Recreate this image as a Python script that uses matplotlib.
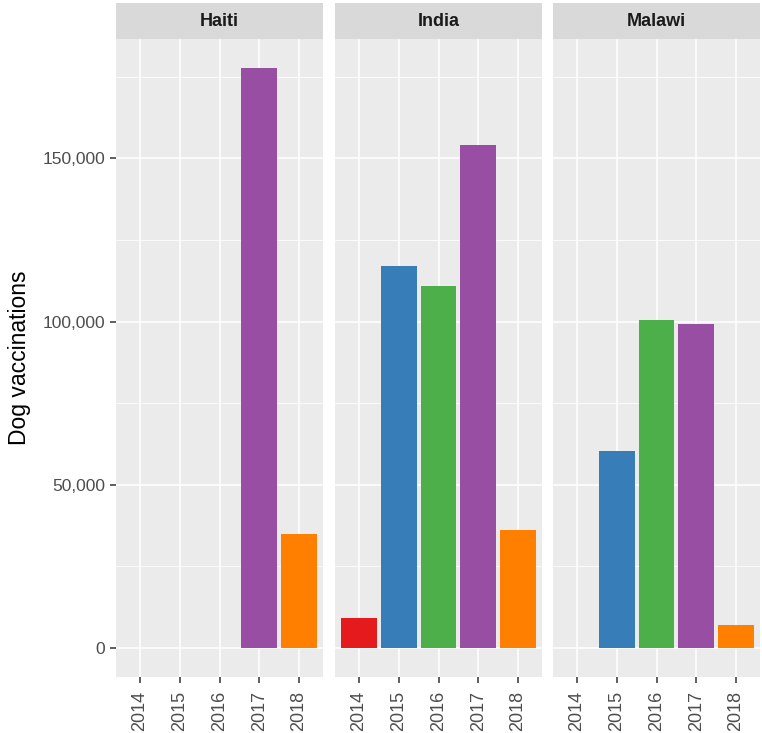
import matplotlib
matplotlib.use("Agg")
import matplotlib.pyplot as plt
from matplotlib.ticker import FuncFormatter, MultipleLocator
import numpy as np

plt.rcParams['font.family'] = ['Liberation Sans', 'DejaVu Sans']

countries = ["Haiti", "India", "Malawi"]
years = ["2014", "2015", "2016", "2017", "2018"]
year_colors = ["#E41A1C", "#377EB8", "#4DAF4A", "#984EA3", "#FF7F00"]
haiti = [None, None, None, 177700, 34900]
india = [9200, 117100, 111000, 154100, 36100]
malawi = [None, 60500, 100600, 99400, 7000]
values = [haiti, india, malawi]

W, H = 762, 733
fig = plt.figure(figsize=(W / 100, H / 100), dpi=100)

panel_lefts = [116, 335, 553]
panel_w = 207
panel_top, panel_bot = 39, 677
strip_top = 3

ymax = 177700
exp = ymax * 0.05
ylo, yhi = -exp, ymax + exp

for i, (c, vals) in enumerate(zip(countries, values)):
    x0 = panel_lefts[i]
    ax = fig.add_axes([x0 / W, 1 - panel_bot / H, panel_w / W, (panel_bot - panel_top) / H])
    ax.set_facecolor("#EBEBEB")
    xs = np.arange(1, len(years) + 1)
    for x, v, col in zip(xs, vals, year_colors):
        if v is not None:
            ax.bar(x, v, width=0.9, color=col, zorder=3)
    ax.set_xlim(0.4, len(years) + 0.6)
    ax.set_ylim(ylo, yhi)
    ax.set_xticks(xs)
    ax.set_xticklabels(years, rotation=90, fontsize=13, color="#4D4D4D")
    ax.yaxis.set_major_locator(MultipleLocator(50000))
    ax.yaxis.set_minor_locator(MultipleLocator(25000))
    ax.xaxis.set_minor_locator(matplotlib.ticker.NullLocator())
    ax.grid(True, which="major", color="white", linewidth=1.1, zorder=0)
    ax.grid(True, which="minor", axis="y", color="white", linewidth=0.55, zorder=0)
    ax.set_axisbelow(True)
    for s in ax.spines.values():
        s.set_visible(False)
    ax.tick_params(axis="both", which="major", length=4, width=1.1, color="#333333", pad=4)
    ax.tick_params(axis="x", which="major", pad=6)
    ax.tick_params(axis="y", which="minor", length=0)
    if i == 0:
        ax.yaxis.set_major_formatter(FuncFormatter(lambda v, p: f"{int(v):,}"))
        ax.tick_params(axis="y", labelsize=12.5, labelcolor="#4D4D4D")
        ax.set_ylabel("Dog vaccinations", fontsize=16.5, color="black", labelpad=8)
    else:
        ax.tick_params(axis="y", which="major", length=0, labelleft=False)

    sax = fig.add_axes([x0 / W, 1 - panel_top / H, panel_w / W, (panel_top - strip_top) / H])
    sax.set_facecolor("#D9D9D9")
    sax.set_xticks([])
    sax.set_yticks([])
    for s in sax.spines.values():
        s.set_visible(False)
    sax.text(0.5, 0.5, c, ha="center", va="center", fontsize=13, fontweight="bold",
             color="#1A1A1A", transform=sax.transAxes)

fig.savefig("out.png", dpi=100, facecolor="white")
